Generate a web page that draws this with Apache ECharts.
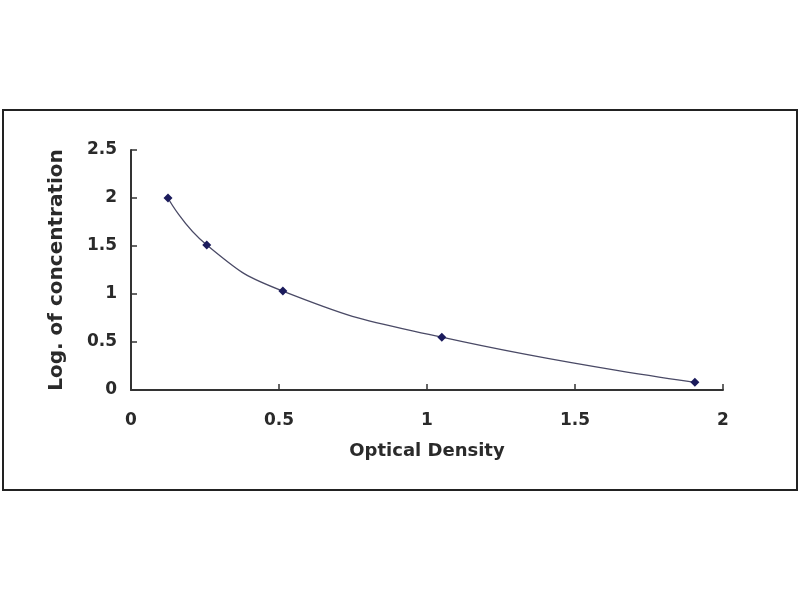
<!DOCTYPE html>
<html>
<head>
<meta charset="utf-8">
<script src="https://cdn.jsdelivr.net/npm/echarts@6/dist/echarts.min.js"></script>
<style>html,body{margin:0;padding:0;background:#fff;}#c{width:800px;height:600px;}</style>
</head>
<body>
<div id="c"></div>
<script>
var opticalDensity = [0.125, 0.256, 0.513, 1.05, 1.905];
var logConcentration = [2.0, 1.51, 1.03, 0.55, 0.08];
var xTicks = [0, 0.5, 1, 1.5, 2];
var yTicks = [0, 0.5, 1, 1.5, 2, 2.5];

var points = opticalDensity.map(function (x, i) { return [x, logConcentration[i]]; });
var chart = echarts.init(document.getElementById('c'));
var txt = '#2a2a2a';
chart.setOption({
  backgroundColor: '#fff',
  animation: false,
  graphic: [{
    type: 'rect', shape: {x: 3, y: 110, width: 794, height: 380},
    style: {fill: 'none', stroke: '#222', lineWidth: 2}, z: 0
  }],
  grid: {left: 131, right: 77, top: 150, bottom: 210},
  xAxis: {
    type: 'value', min: 0, max: 2, interval: 0.5,
    name: 'Optical Density', nameLocation: 'middle', nameGap: 52,
    nameTextStyle: {fontFamily: 'DejaVu Sans', fontWeight: 'bold', fontSize: 18, color: txt},
    axisLine: {lineStyle: {color: '#333', width: 2}},
    axisTick: {inside: true, length: 6, lineStyle: {color: '#333', width: 1.5}},
    axisLabel: {margin: 22, fontFamily: 'DejaVu Sans', fontWeight: 'bold', fontSize: 17, color: txt,
      formatter: function (v) { return xTicks.indexOf(v) >= 0 ? String(v) : ''; }},
    splitLine: {show: false}
  },
  yAxis: {
    type: 'value', min: 0, max: 2.5, interval: 0.5,
    name: 'Log. of concentration', nameLocation: 'middle', nameGap: 64, nameRotate: 90,
    nameTextStyle: {fontFamily: 'DejaVu Sans', fontWeight: 'bold', fontSize: 20, color: txt},
    axisLine: {show: true, lineStyle: {color: '#333', width: 2}},
    axisTick: {show: true, inside: true, length: 6, lineStyle: {color: '#333', width: 1.5}},
    axisLabel: {margin: 14, fontFamily: 'DejaVu Sans', fontWeight: 'bold', fontSize: 17, color: txt,
      formatter: function (v) { return yTicks.indexOf(v) >= 0 ? String(v) : ''; }},
    splitLine: {show: false}
  },
  series: [{
    type: 'line', data: points, smooth: 0.5,
    symbol: 'diamond', symbolSize: 9,
    lineStyle: {color: '#4a4a66', width: 1.3},
    itemStyle: {color: '#1b1b5c'}
  }]
});
</script>
</body>
</html>
